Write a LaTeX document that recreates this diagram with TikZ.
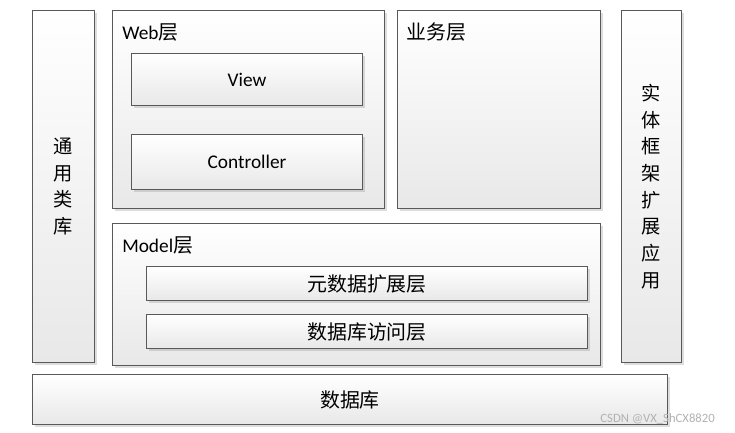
\documentclass[tikz,border=0pt]{standalone}
\usepackage{fontspec}
\setmainfont{Carlito}
\newfontfamily\cjk{Noto Sans CJK SC}[Scale=1.03]
\usetikzlibrary{shadows}

\begin{document}
\begin{tikzpicture}[
	x=0.75pt, y=-0.75pt,
	layer/.style={draw=black!65, line width=0.8pt, top color=white, bottom color=black!9,
		drop shadow={shadow xshift=2.2pt, shadow yshift=-2.2pt, opacity=0.22, fill=black!60},
		anchor=north west, inner sep=0pt, font=\fontsize{14.5}{16}\selectfont},
	title/.style={anchor=west, inner sep=0pt, font=\fontsize{14.5}{16}\selectfont},
	upright/.style={align=center, font=\cjk\fontsize{14}{20}\selectfont},
]
	\useasboundingbox (0,0) rectangle (735,432);

	% side columns
	\node[layer, minimum width=46.5pt, minimum height=264pt] (lib) at (32,10) {};
	\node[upright] at (lib.center) {通\\用\\类\\库};
	\node[layer, minimum width=45pt, minimum height=264pt] (ext) at (621,10) {};
	\node[upright] at (ext.center) {实\\体\\框\\架\\扩\\展\\应\\用};

	% web layer
	\node[layer, minimum width=204pt, minimum height=148.5pt] (web) at (112,10) {};
	\node[title] at ([shift={(10,22)}]web.north west) {Web{\cjk 层}};
	\node[layer, minimum width=173.25pt, minimum height=39pt] (view) at (131,53) {View};
	\node[layer, minimum width=173.25pt, minimum height=41.25pt] (ctrl) at (131,134) {Controller};

	% business layer
	\node[layer, minimum width=152.25pt, minimum height=148.5pt] (biz) at (397,10) {};
	\node[title] at ([shift={(9,22)}]biz.north west) {\cjk 业务层};

	% model layer
	\node[layer, minimum width=366pt, minimum height=106.5pt] (model) at (112,223) {};
	\node[title] at ([shift={(10,22)}]model.north west) {Model{\cjk 层}};
	\node[layer, minimum width=330.75pt, minimum height=25.5pt] (meta) at (146,266) {\cjk 元数据扩展层};
	\node[layer, minimum width=330.75pt, minimum height=25.5pt] (dao) at (146,314) {\cjk 数据库访问层};

	% database
	\node[layer, minimum width=476.25pt, minimum height=37.5pt] (db) at (32,374) {\cjk 数据库};

	\node[anchor=east, inner sep=0pt, text=black!30, font=\fontsize{9.5}{11}\selectfont] (wm) at (715,419) {CSDN @VX\_ShCX8820};
\end{tikzpicture}
\end{document}
